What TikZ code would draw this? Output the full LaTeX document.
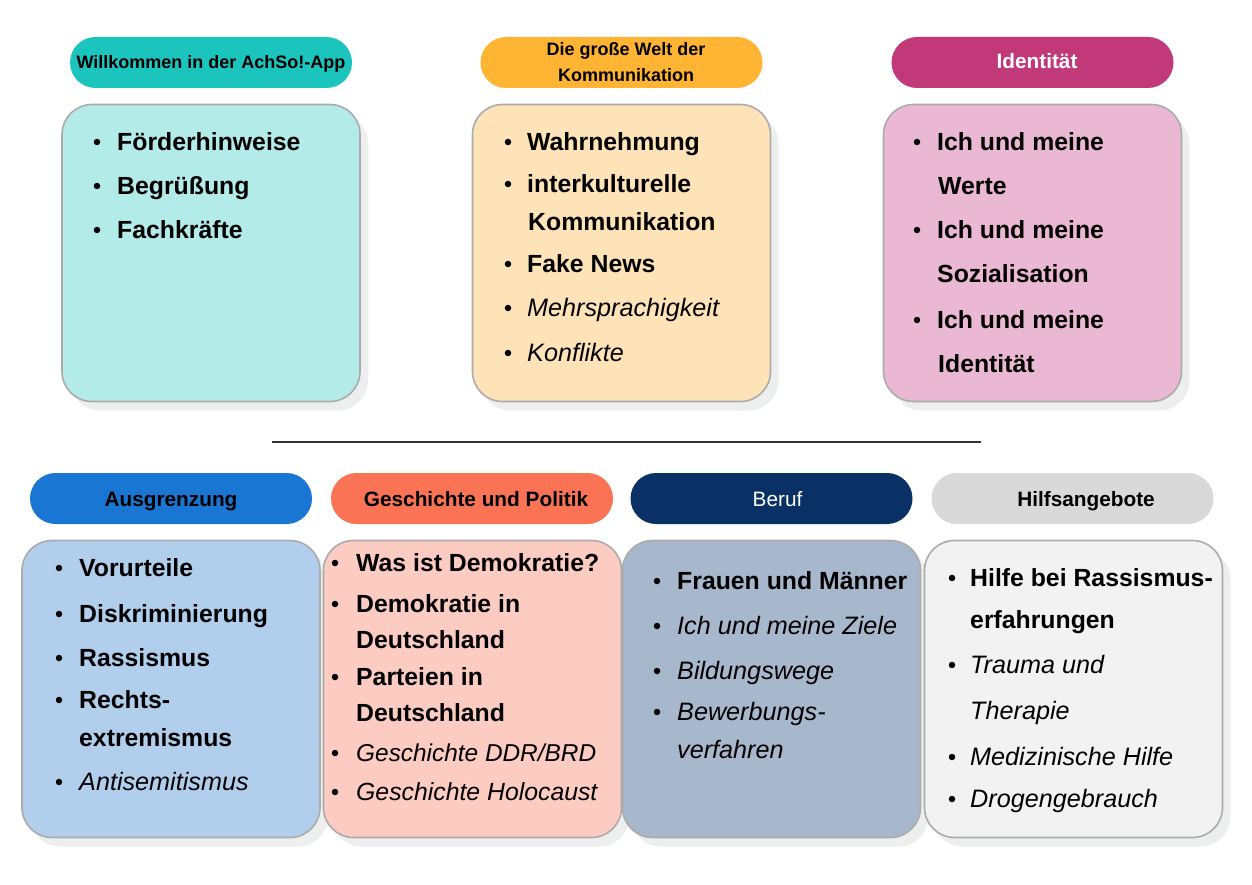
\documentclass[tikz,border=0pt]{standalone}
\usepackage{fontspec}
\setmainfont{Liberation Sans}
\usetikzlibrary{shadows}
\definecolor{hA}{HTML}{1BC5BD}\definecolor{bA}{HTML}{B2EBE8}
\definecolor{hB}{HTML}{FFB433}\definecolor{bB}{HTML}{FFE3B8}
\definecolor{hC}{HTML}{C2397A}\definecolor{bC}{HTML}{EAB8D3}
\definecolor{hD}{HTML}{1976D2}\definecolor{bD}{HTML}{B1CFED}
\definecolor{hE}{HTML}{F97354}\definecolor{bE}{HTML}{FCCBC2}
\definecolor{hF}{HTML}{0A3166}\definecolor{bF}{HTML}{A8B8CC}
\definecolor{hG}{HTML}{D9D9D9}\definecolor{bG}{HTML}{F2F2F2}
\definecolor{brd}{HTML}{ABABAB}
\definecolor{shd}{HTML}{EDEFEF}
\definecolor{sep}{HTML}{333333}
\begin{document}
\begin{tikzpicture}[x=1pt,y=-1pt,
  hdr/.style={rectangle,rounded corners=25.5pt,minimum width=282pt,minimum height=51pt,inner sep=0,draw=none},
  body/.style={rectangle,rounded corners=30pt,minimum width=298pt,minimum height=297pt,inner sep=0,draw=brd,line width=1.6pt,
     drop shadow={shadow xshift=8pt,shadow yshift=-9pt,fill=shd,opacity=1,draw=none}},
  hl/.style={font=\fontsize{18}{22}\selectfont\bfseries,inner sep=0,anchor=base},
  hlb/.style={font=\fontsize{20.8}{24}\selectfont\bfseries,inner sep=0,anchor=base},
  bt/.style={font=\fontsize{24.8}{30}\selectfont\bfseries,inner sep=0,anchor=base west,yshift=-8.8pt},
  it/.style={font=\fontsize{25.2}{30}\selectfont\itshape,inner sep=0,anchor=base west,yshift=-8.8pt},
  bul/.style={circle,fill=black,inner sep=0,minimum size=6.5pt,draw=none}
]
\useasboundingbox[fill=white] (0,0) rectangle (1252,885);

% ---------- top row ----------
\node[hdr,fill=hA] (hA) at (211,62.5) {};
\node[hl] (lA) at (211,69) {Willkommen in der AchSo!-App};
\node[hdr,fill=hB] (hB) at (621.5,62.5) {};
\node[hl] (lB1) at (626,56) {Die große Welt der};
\node[hl] (lB2) at (626,82) {Kommunikation};
\node[hdr,fill=hC] (hC) at (1032.5,62.5) {};
\node[hlb,text=white] (lC) at (1037,69) {Identität};

\node[body,fill=bA] (bA) at (211,253) {};
\node[bul] (a1b) at (97,142) {}; \node[bt] (a1) at (117,142) {Förderhinweise};
\node[bul] (a2b) at (97,186) {}; \node[bt] (a2) at (117,186) {Begrüßung};
\node[bul] (a3b) at (97,230) {}; \node[bt] (a3) at (117,230) {Fachkräfte};

\node[body,fill=bB] (bB) at (621.5,253) {};
\node[bul] (b1b) at (508,142) {}; \node[bt] (b1) at (527,142) {Wahrnehmung};
\node[bul] (b2b) at (508,184) {}; \node[bt] (b2) at (527,184) {interkulturelle};
\node[bt] (b2c) at (528,222) {Kommunikation};
\node[bul] (b3b) at (508,264) {}; \node[bt] (b3) at (527,264) {Fake News};
\node[bul] (b4b) at (508,308) {}; \node[it] (b4) at (527,308) {Mehrsprachigkeit};
\node[bul] (b5b) at (508,353) {}; \node[it] (b5) at (527,353) {Konflikte};

\node[body,fill=bC] (bC) at (1032.5,253) {};
\node[bul] (c1b) at (917,142) {}; \node[bt] (c1) at (937,142) {Ich und meine};
\node[bt] (c1c) at (938,186) {Werte};
\node[bul] (c2b) at (917,230) {}; \node[bt] (c2) at (937,230) {Ich und meine};
\node[bt] (c2c) at (937,274) {Sozialisation};
\node[bul] (c3b) at (917,320) {}; \node[bt] (c3) at (937,320) {Ich und meine};
\node[bt] (c3c) at (938,364) {Identität};

% ---------- separator ----------
\coordinate (s1) at (272,442);
\coordinate (s2) at (981,442);
\draw[sep,line width=2.6pt] (s1) -- (s2);

% ---------- bottom row ----------
\node[hdr,fill=hD] (hD) at (171,498.5) {};
\node[hlb] (lD) at (171,506.5) {Ausgrenzung};
\node[hdr,fill=hE] (hE) at (472,498.5) {};
\node[hlb] (lE) at (476,506.5) {Geschichte und Politik};
\node[hdr,fill=hF] (hF) at (771.5,498.5) {};
\node[hlb,font=\fontsize{20.8}{24}\selectfont,text=white] (lF) at (777.5,506.5) {Beruf};
\node[hdr,fill=hG] (hG) at (1072.5,498.5) {};
\node[hlb] (lG) at (1086,506.5) {Hilfsangebote};

\node[body,fill=bD] (bD) at (171,689) {};
\node[bul] (d1b) at (59,568) {}; \node[bt] (d1) at (79,568) {Vorurteile};
\node[bul] (d2b) at (59,614) {}; \node[bt] (d2) at (79,614) {Diskriminierung};
\node[bul] (d3b) at (59,658) {}; \node[bt] (d3) at (79,658) {Rassismus};
\node[bul] (d4b) at (59,700) {}; \node[bt] (d4) at (79,700) {Rechts-};
\node[bt] (d4c) at (79,738) {extremismus};
\node[bul] (d5b) at (59,782) {}; \node[it] (d5) at (79,782) {Antisemitismus};

\node[body,fill=bE] (bE) at (472.5,689) {};
\node[bul] (e1b) at (335,563) {}; \node[bt] (e1) at (356,563) {Was ist Demokratie?};
\node[bul] (e2b) at (335,604) {}; \node[bt] (e2) at (356,604) {Demokratie in};
\node[bt] (e2c) at (356,640) {Deutschland};
\node[bul] (e3b) at (335,677) {}; \node[bt] (e3) at (356,677) {Parteien in};
\node[bt] (e3c) at (356,713) {Deutschland};
\node[bul] (e4b) at (335,753) {}; \node[it,font=\fontsize{24.4}{30}\selectfont\itshape] (e4) at (356,753) {Geschichte DDR/BRD};
\node[bul] (e5b) at (335,792) {}; \node[it,font=\fontsize{24.8}{30}\selectfont\itshape] (e5) at (356,792) {Geschichte Holocaust};

\node[body,fill=bF] (bF) at (771.5,689) {};
\node[bul] (f1b) at (657,581) {}; \node[bt] (f1) at (677,581) {Frauen und Männer};
\node[bul] (f2b) at (657,626) {}; \node[it] (f2) at (677,626) {Ich und meine Ziele};
\node[bul] (f3b) at (657,671) {}; \node[it] (f3) at (677,671) {Bildungswege};
\node[bul] (f4b) at (657,712) {}; \node[it] (f4) at (677,712) {Bewerbungs-};
\node[it] (f4c) at (677,750) {verfahren};

\node[body,fill=bG] (bG) at (1073.5,689) {};
\node[bul] (g1b) at (952,578) {}; \node[bt] (g1) at (970,578) {Hilfe bei Rassismus-};
\node[bt] (g1c) at (970,620) {erfahrungen};
\node[bul] (g2b) at (952,665) {}; \node[it] (g2) at (970,665) {Trauma und};
\node[it] (g2c) at (970,711) {Therapie};
\node[bul] (g3b) at (952,757) {}; \node[it] (g3) at (970,757) {Medizinische Hilfe};
\node[bul] (g4b) at (952,799) {}; \node[it] (g4) at (970,799) {Drogengebrauch};
\end{tikzpicture}
\end{document}
